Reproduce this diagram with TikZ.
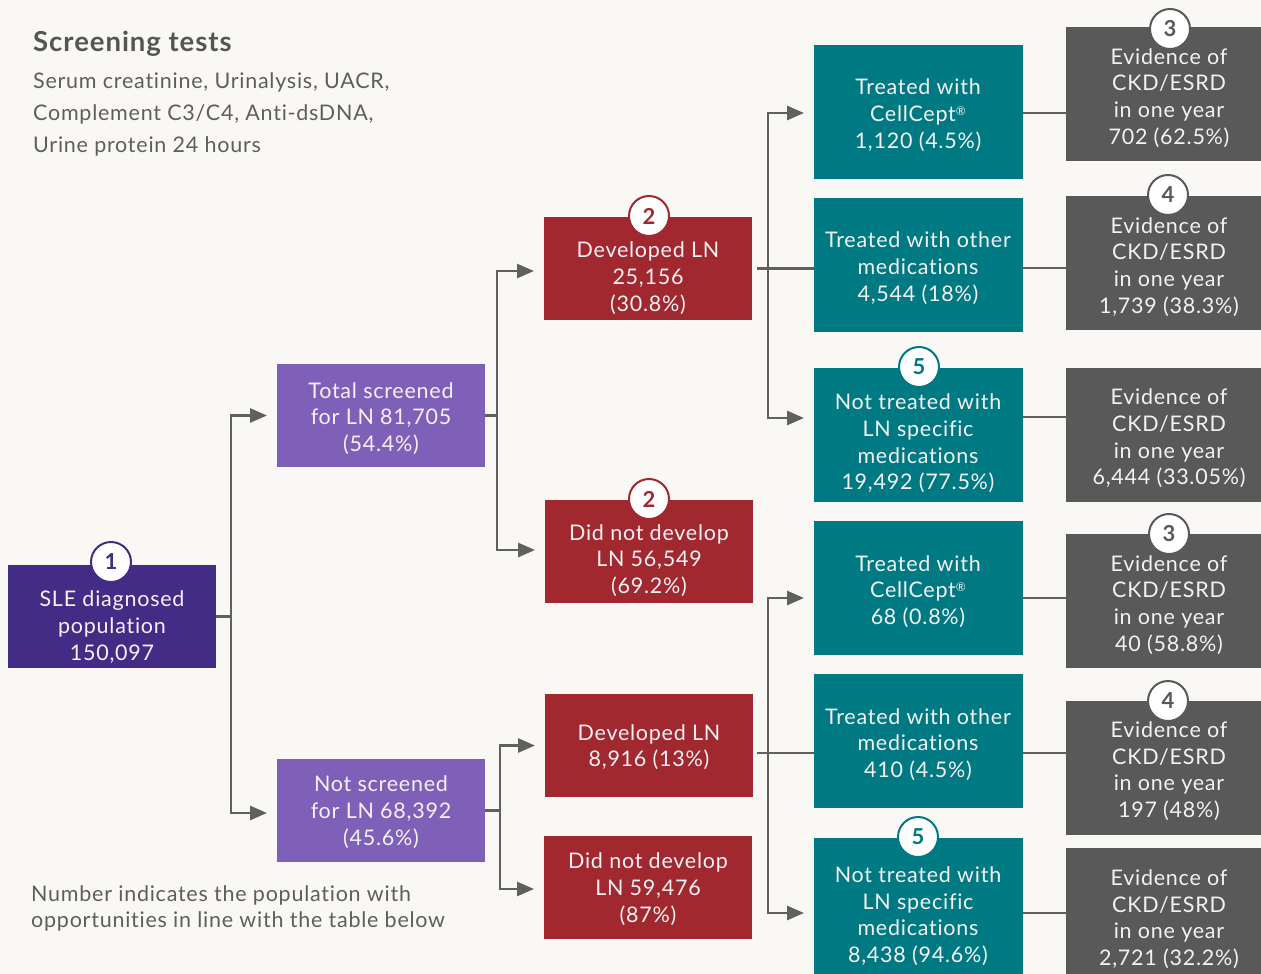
\documentclass[tikz,border=0pt]{standalone}
\usepackage{fontspec}
\setmainfont{Lato}[LetterSpace=3.5,Ligatures={NoCommon,NoRare}]
\usetikzlibrary{arrows.meta,calc}
\definecolor{bgc}{HTML}{F9F8F4}
\definecolor{slec}{HTML}{432C85}
\definecolor{purc}{HTML}{7F60B9}
\definecolor{redc}{HTML}{A1282F}
\definecolor{tealc}{HTML}{007A82}
\definecolor{greyc}{HTML}{595959}
\definecolor{linec}{HTML}{606060}
\definecolor{txtc}{HTML}{F4F1F4}
\definecolor{headc}{HTML}{555555}
\definecolor{subc}{HTML}{5E5E5E}
\newcommand{\regmark}{{\fontsize{12}{12}\selectfont\raisebox{6pt}{®}}}
\begin{document}
\begin{tikzpicture}[x=1pt,y=-1pt,
  box/.style={rectangle,inner sep=0pt,outer sep=0pt,draw=none},
  smallbox/.style={box,minimum width=208pt,minimum height=103pt},
  tealbox/.style={box,fill=tealc,minimum width=209pt,minimum height=134pt},
  greybox/.style={box,fill=greyc,minimum width=195pt,minimum height=134pt},
  txt/.style={text=txtc,align=center,inner sep=0pt,yshift=-2pt,font=\fontsize{21.5}{26.7}\selectfont},
  badge/.style={circle,draw=#1,line width=2pt,fill=white,text=#1,minimum size=40pt,inner sep=0pt,font=\fontsize{22}{22}\bfseries\selectfont},
  conn/.style={draw=linec,line width=2.8pt},
  arr/.style={conn,-{Triangle[length=17pt,width=14pt]},shorten >=10pt}
]
\fill[bgc] (0,0) rectangle (1261,974);
\useasboundingbox (0,0) rectangle (1261,974);

% header texts
\node[anchor=west,inner sep=0pt,text=headc,font=\fontsize{27.5}{30}\bfseries\selectfont] (head) at (33,44) {Screening tests};
\node[anchor=west,inner sep=0pt,text=subc,align=left,font=\fontsize{21.5}{32}\selectfont] (sub) at (33,114) {Serum creatinine, Urinalysis, UACR,\\Complement C3/C4, Anti-dsDNA,\\Urine protein 24 hours};
\node[anchor=west,inner sep=0pt,text=subc,align=left,font=\fontsize{21.5}{26}\selectfont] (note) at (31,908) {Number indicates the population with\\opportunities in line with the table below};

% level 1
\node[smallbox,fill=slec] (sle) at (112,616.5) {};
\node[txt] (slet) at (112,625) {SLE diagnosed\\population\\150,097};
\node[badge=slec] (b1) at (111,562) {1};

% level 2
\node[smallbox,fill=purc] (tot) at (381,415.5) {};
\node[txt] (tott) at (381,416.5) {Total screened\\for LN 81,705\\(54.4\%)};
\node[smallbox,fill=purc] (nots) at (381,810.5) {};
\node[txt] (notst) at (381,810) {Not screened\\for LN 68,392\\(45.6\%)};

% level 3
\node[smallbox,fill=redc] (dev1) at (648,268.5) {};
\node[txt] (dev1t) at (648,276) {Developed LN\\25,156\\(30.8\%)};
\node[badge=redc] (b2a) at (649,216) {2};
\node[smallbox,fill=redc] (dnd1) at (649,551.5) {};
\node[txt] (dnd1t) at (649,558.5) {Did not develop\\LN 56,549\\(69.2\%)};
\node[badge=redc] (b2b) at (649,499) {2};
\node[smallbox,fill=redc] (dev2) at (649,745.5) {};
\node[txt] (dev2t) at (649,745) {Developed LN\\8,916 (13\%)};
\node[smallbox,fill=redc] (dnd2) at (648,887.5) {};
\node[txt] (dnd2t) at (648,887) {Did not develop\\LN 59,476\\(87\%)};

% level 4 (teal)
\node[tealbox] (t1) at (918.5,112) {};
\node[txt] (t1t) at (918,113) {Treated with\\CellCept\regmark\\1,120 (4.5\%)};
\node[tealbox] (t2) at (918.5,265) {};
\node[txt] (t2t) at (918,266) {Treated with other\\medications\\4,544 (18\%)};
\node[tealbox] (t3) at (918.5,435) {};
\node[txt] (t3t) at (918,441.5) {Not treated with\\LN specific\\medications\\19,492 (77.5\%)};
\node[badge=tealc] (b5a) at (919,367) {5};
\node[tealbox] (t4) at (918.5,588) {};
\node[txt] (t4t) at (918,589.5) {Treated with\\CellCept\regmark\\68 (0.8\%)};
\node[tealbox] (t5) at (918.5,741) {};
\node[txt] (t5t) at (918,742.5) {Treated with other\\medications\\410 (4.5\%)};
\node[tealbox,minimum height=136pt] (t6) at (918.5,906) {};
\node[txt] (t6t) at (918,914) {Not treated with\\LN specific\\medications\\8,438 (94.6\%)};
\node[badge=tealc] (b5b) at (918,837) {5};

% level 5 (grey)
\node[greybox] (g1) at (1163.5,94) {};
\node[txt] (g1t) at (1169,96) {Evidence of\\CKD/ESRD\\in one year\\702 (62.5\%)};
\node[badge=greyc] (b3a) at (1170,29) {3};
\node[greybox] (g2) at (1163.5,263) {};
\node[txt] (g2t) at (1169,265) {Evidence of\\CKD/ESRD\\in one year\\1,739 (38.3\%)};
\node[badge=greyc] (b4a) at (1168,195) {4};
\node[greybox] (g3) at (1163.5,435) {};
\node[txt] (g3t) at (1169,436.5) {Evidence of\\CKD/ESRD\\in one year\\6,444 (33.05\%)};
\node[greybox] (g4) at (1163.5,601) {};
\node[txt] (g4t) at (1169,603) {Evidence of\\CKD/ESRD\\in one year\\40 (58.8\%)};
\node[badge=greyc] (b3b) at (1169,534) {3};
\node[greybox] (g5) at (1163.5,768) {};
\node[txt] (g5t) at (1169,769) {Evidence of\\CKD/ESRD\\in one year\\197 (48\%)};
\node[badge=greyc] (b4b) at (1168,701) {4};
\node[greybox,minimum height=126pt] (g6) at (1163.5,911) {};
\node[txt] (g6t) at (1169,917) {Evidence of\\CKD/ESRD\\in one year\\2,721 (32.2\%)};

% connectors level 1 -> 2
\draw[conn] (sle.east) -- ++(15,0) coordinate (j1);
\draw[arr] (j1) |- (tot.west);
\draw[arr] (j1) |- ([yshift=-2.5pt]nots.west);

% level 2 -> 3
\draw[conn] (tot.east) -- ++(12,0) coordinate (j2);
\draw[arr] (j2) |- ([yshift=-2.5pt]dev1.west);
\draw[arr] (j2) |- ([yshift=1.5pt]dnd1.west);
\draw[conn] (nots.east) -- ++(15,0) coordinate (j3);
\draw[arr] (j3) |- (dev2.west);
\draw[arr] (j3) |- ([yshift=-1.5pt]dnd2.west);

% level 3 -> 4
\path ([xshift=5pt]dev1.east) coordinate (d1s);
\path ($(dev1.east)+(16,0)$) coordinate (j4);
\draw[conn] (d1s) -- (d1s -| t2.west);
\draw[arr] (j4) |- ([yshift=-1pt]t1.west);
\draw[arr] (j4) |- ([yshift=17pt]t3.west);
\path ([xshift=4pt,yshift=-7.5pt]dev2.east) coordinate (d2s);
\path ($(d2s)+(11,0)$) coordinate (j5);
\draw[conn] (d2s) -- (d2s -| t5.west);
\draw[arr] (j5) |- ([yshift=-10pt]t4.west);
\draw[arr] (j5) |- ([yshift=-7pt]t6.west);

% level 4 -> 5
\path ([yshift=-1pt]t1.east) coordinate (c1);
\draw[conn] (c1) -- (c1 -| g1.west);
\path ([yshift=-3pt]t2.east) coordinate (c2);
\draw[conn] (c2) -- (c2 -| g2.west);
\path ([yshift=18pt]t3.east) coordinate (c3);
\draw[conn] (c3) -- (c3 -| g3.west);
\path ([yshift=-10pt]t4.east) coordinate (c4);
\draw[conn] (c4) -- (c4 -| g4.west);
\path ([yshift=-12pt]t5.east) coordinate (c5);
\draw[conn] (c5) -- (c5 -| g5.west);
\path ([yshift=-7pt]t6.east) coordinate (c6);
\draw[conn] (c6) -- (c6 -| g6.west);
\end{tikzpicture}
\end{document}
